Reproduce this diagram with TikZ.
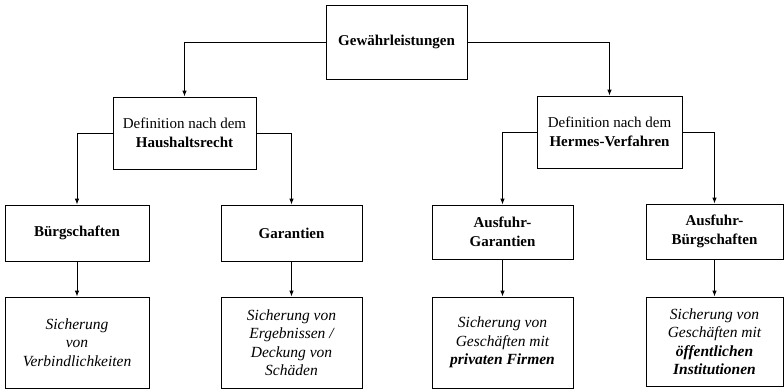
\documentclass[tikz,border=0pt]{standalone}
\usepackage{fontspec}
\setmainfont{Liberation Serif}[BoldFont={Liberation Serif Bold}, ItalicFont={Liberation Serif Italic}, BoldItalicFont={Liberation Serif Bold Italic}]
\usetikzlibrary{arrows.meta}
\tikzset{
  box/.style={draw, line width=0.8pt, inner sep=2pt, align=center, font=\fontsize{15}{18.5}\selectfont},
  detail/.style={box, font=\fontsize{15.5}{18.5}\selectfont\itshape},
  arr/.style={line width=0.9pt, -{Latex[length=6pt,width=4.5pt]}},
}
\begin{document}
\begin{tikzpicture}[x=1pt,y=-1pt]
\useasboundingbox (0,0) rectangle (784,389);
% level 1
\node[box, minimum width=141pt, minimum height=74pt] (top) at (396.5,42) {\textbf{Gewährleistungen}};
% level 2
\node[box, minimum width=143pt, minimum height=72pt] (defL) at (184.5,133) {Definition nach dem\\\textbf{Haushaltsrecht}};
\node[box, minimum width=145pt, minimum height=72pt] (defR) at (609.5,132) {Definition nach dem\\\textbf{Hermes-Verfahren}};
% level 3
\node[box, minimum width=144pt, minimum height=56pt] (b1) at (77,233) {\textbf{Bürgschaften}};
\node[box, minimum width=141pt, minimum height=56pt] (g1) at (291.5,233) {\textbf{Garantien}};
\node[box, minimum width=141pt, minimum height=54pt] (ag) at (502.5,232) {\textbf{Ausfuhr-}\\\textbf{Garantien}};
\node[box, minimum width=137pt, minimum height=55pt] (ab) at (714.5,231.5) {\textbf{Ausfuhr-}\\\textbf{Bürgschaften}};
% level 4
\node[detail, minimum width=144pt, minimum height=91pt] (d1) at (77,342.5) {Sicherung\\von\\Verbindlichkeiten};
\node[detail, minimum width=141pt, minimum height=91pt] (d2) at (291.5,342.5) {Sicherung von\\Ergebnissen /\\Deckung von\\Schäden};
\node[detail, minimum width=141pt, minimum height=91pt] (d3) at (502.5,342.5) {Sicherung von\\Geschäften mit\\\bfseries privaten Firmen};
\node[detail, minimum width=137pt, minimum height=89pt] (d4) at (714.5,341.5) {Sicherung von\\Geschäften mit\\\bfseries öffentlichen\\\bfseries Institutionen};
% connectors
\draw[arr] (top.west) -| (defL.north);
\draw[arr] (top.east) -| (defR.north);
\draw[arr] (defL.west) -| (b1.north);
\draw[arr] (defL.east) -| (g1.north);
\draw[arr] (defR.west) -| (ag.north);
\draw[arr] (defR.east) -| (ab.north);
\draw[arr] (b1.south) -- (d1.north);
\draw[arr] (g1.south) -- (d2.north);
\draw[arr] (ag.south) -- (d3.north);
\draw[arr] (ab.south) -- (d4.north);
\end{tikzpicture}
\end{document}
